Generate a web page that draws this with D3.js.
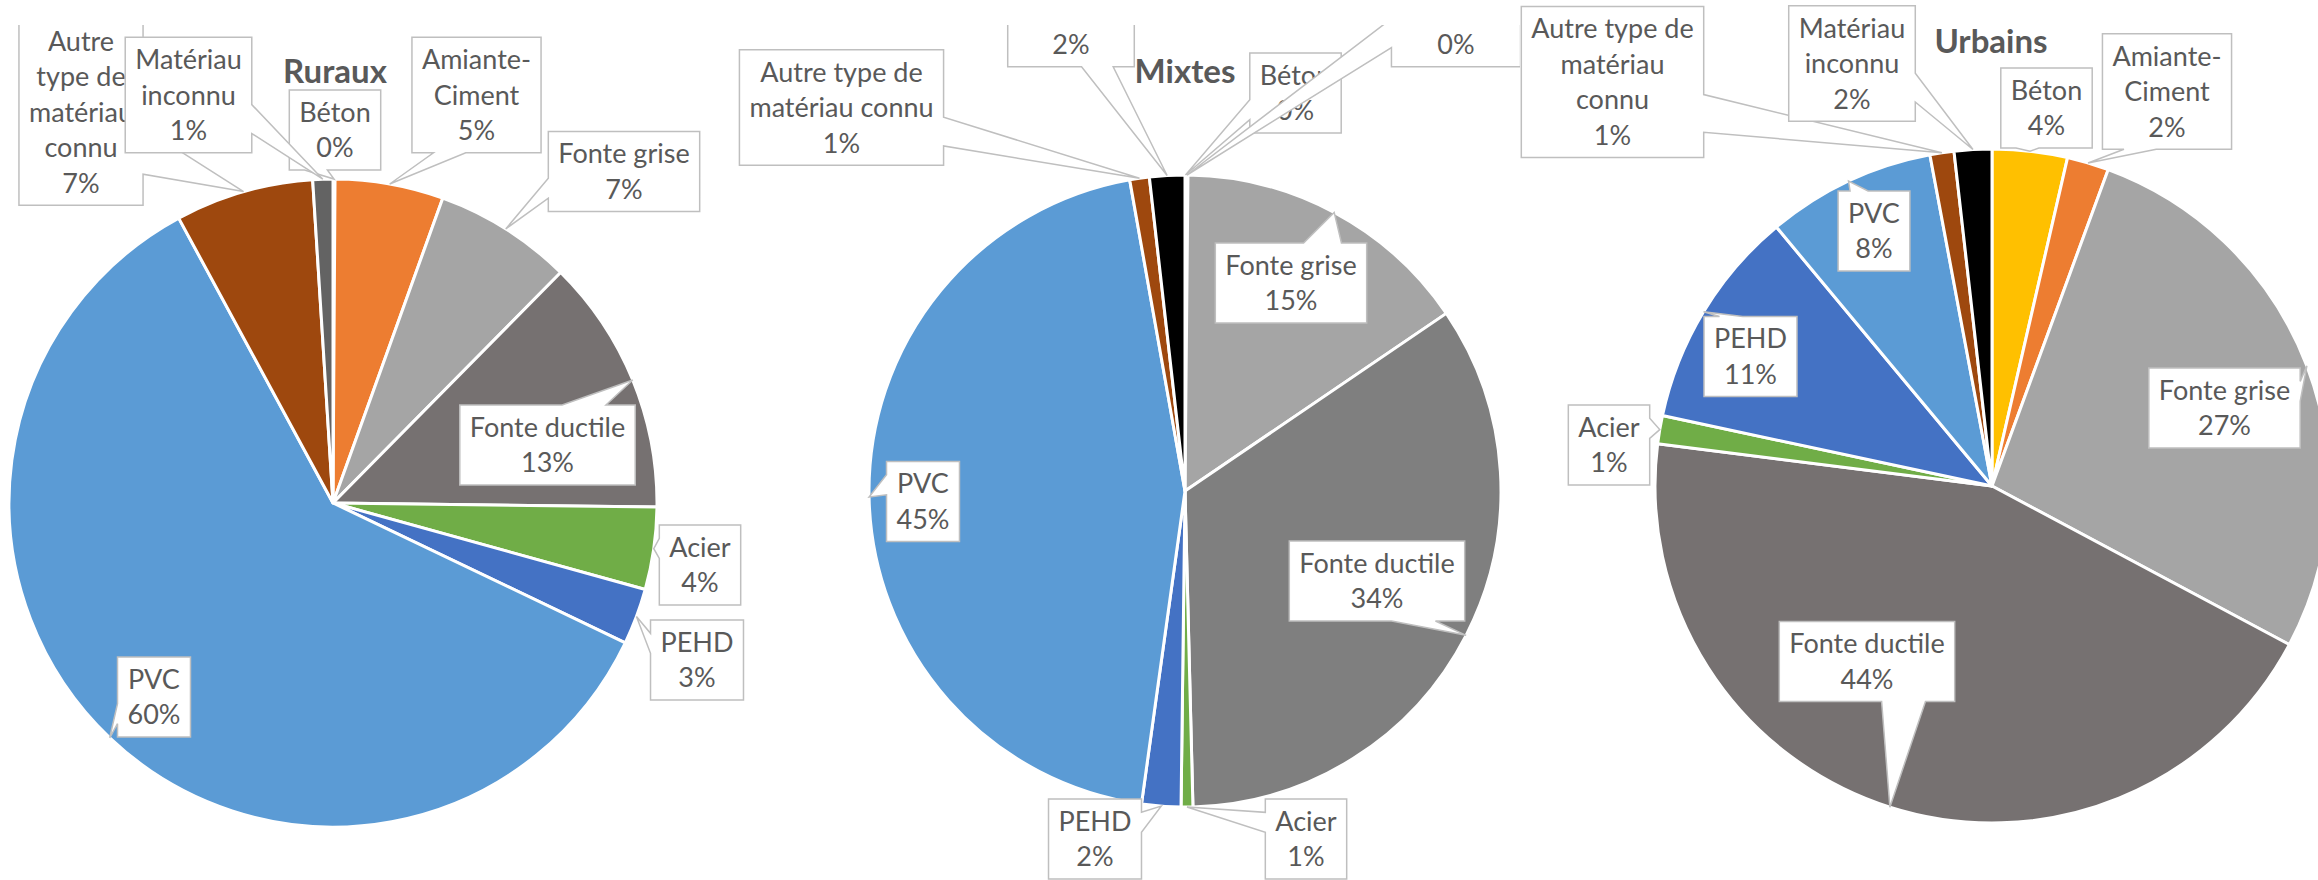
<!DOCTYPE html>
<html>
<head>
    <meta charset="utf-8">
    <title>Matériaux des canalisations</title>
    <style>
        body { margin: 0; background: #fff; }
        svg text { font-family: Lato, "Open Sans", sans-serif; fill: #595959; }
        .title { font-weight: bold; font-size: 33px; }
        .lbl { font-size: 27px; }
    </style>
</head>
<body>
<div id="plot"></div>
<script src="https://cdn.jsdelivr.net/npm/d3@7"></script>
<script>

    // categories, in the order of the series (clockwise from 12 o'clock)
    let materials = ['Béton', 'Amiante-Ciment', 'Fonte grise', 'Fonte ductile',
        'Acier', 'PEHD', 'PVC', 'Autre type de matériau connu', 'Matériau inconnu'];

    // share of network length (%)
    let valuesRuraux  = [0.1, 5.4, 6.9, 12.8, 4.1, 2.8, 60.0, 6.9, 1.0];
    let valuesMixtes  = [0.05, 0.1, 15.35, 34.1, 0.6, 2.0, 45.0, 1.0, 1.8];
    let valuesUrbains = [3.6, 2.0, 27.2, 44.2, 1.35, 10.6, 8.1, 1.15, 1.8];

    // label text as wrapped in each chart
    let namesRuraux  = [['Béton'], ['Amiante-', 'Ciment'], ['Fonte grise'], ['Fonte ductile'],
        ['Acier'], ['PEHD'], ['PVC'], ['Autre', 'type de', 'matériau', 'connu'], ['Matériau', 'inconnu']];
    let namesMixtes  = [['Béton'], ['Amiante-', 'Ciment'], ['Fonte grise'], ['Fonte ductile'],
        ['Acier'], ['PEHD'], ['PVC'], ['Autre type de', 'matériau connu'], ['Matériau', 'inconnu']];
    let namesUrbains = [['Béton'], ['Amiante-', 'Ciment'], ['Fonte grise'], ['Fonte ductile'],
        ['Acier'], ['PEHD'], ['PVC'], ['Autre type de', 'matériau', 'connu'], ['Matériau', 'inconnu']];

    let colorsRuraux  = ['#FFC000', '#ED7D31', '#A5A5A5', '#767171', '#70AD47', '#4472C4', '#5B9BD5', '#9E480E', '#636363'];
    let colorsMixtes  = ['#FFC000', '#ED7D31', '#A5A5A5', '#7F7F7F', '#70AD47', '#4472C4', '#5B9BD5', '#9E480E', '#000000'];
    let colorsUrbains = ['#FFC000', '#ED7D31', '#A5A5A5', '#767171', '#70AD47', '#4472C4', '#5B9BD5', '#9E480E', '#000000'];

    // layout: pie centre/radius, clip of each chart object, and label box offsets from the centre
    let charts = [
        {title: 'Ruraux', values: valuesRuraux, names: namesRuraux, colors: colorsRuraux,
         cx: 333, cy: 503, r: 324, titleX: 335, titleY: 83, clip: [0, 25, 760, 880],
         offsets: [[2, -373], [143.5, -408], [291, -331.5], [214.5, -58], [367, 62],
                   [364, 157], [-179, 194], [-252, -391], [-144.5, -408]]},
        {title: 'Mixtes', values: valuesMixtes, names: namesMixtes, colors: colorsMixtes,
         cx: 1185, cy: 491, r: 316, titleX: 1185, titleY: 83, clip: [736, 25, 1520, 880],
         offsets: [[110.5, -398], [271, -482], [106, -208], [192, 90], [121, 348],
                   [-90, 348], [-262, 10.5], [-343.5, -383.5], [-114, -482]]},
        {title: 'Urbains', values: valuesUrbains, names: namesUrbains, colors: colorsUrbains,
         cx: 1992, cy: 486, r: 337, titleX: 1991, titleY: 53, clip: [1520, 0, 2318, 880],
         offsets: [[54.5, -378], [175, -394.5], [232.5, -78], [-125, 175.5], [-383, -41],
                   [-241.5, -129.5], [-118, -255], [-379.5, -404], [-140, -422.5]]}
    ];

    let svgWidth = 2318;
    let svgHeight = 880;
    let lineH = 35.5;
    let padX = 10;
    let padY = 4.5;

    function translate(x, y) {
        return 'translate(' + x + ', ' + y + ')';
    }

    // wedge rectangle callout, same rule as the office preset shape
    function calloutPath(x, y, w, h, tx, ty) {
        let dx = tx - (x + w / 2), dy = ty - (y + h / 2);
        let dq = dx * h / w;
        let vert = Math.abs(dy) - Math.abs(dq) > 0;
        let x1 = x + w * (dx > 0 ? 7 : 2) / 12, x2 = x + w * (dx > 0 ? 10 : 5) / 12;
        let y1 = y + h * (dy > 0 ? 7 : 2) / 12, y2 = y + h * (dy > 0 ? 10 : 5) / 12;
        let p = d3.path();
        p.moveTo(x, y);
        if (vert && dy < 0) { p.lineTo(x1, y); p.lineTo(tx, ty); p.lineTo(x2, y); }
        p.lineTo(x + w, y);
        if (!vert && dx > 0) { p.lineTo(x + w, y1); p.lineTo(tx, ty); p.lineTo(x + w, y2); }
        p.lineTo(x + w, y + h);
        if (vert && dy > 0) { p.lineTo(x2, y + h); p.lineTo(tx, ty); p.lineTo(x1, y + h); }
        p.lineTo(x, y + h);
        if (!vert && dx < 0) { p.lineTo(x, y2); p.lineTo(tx, ty); p.lineTo(x, y1); }
        p.closePath();
        return p.toString();
    }

    let svg = d3.select('#plot')
        .append('svg')
        .attr('width', svgWidth)
        .attr('height', svgHeight);

    let pie = d3.pie().sort(null).value(d => d);

    charts.forEach(function(c, ci) {
        svg.append('clipPath')
            .attr('id', 'clip' + ci)
            .append('rect')
            .attr('x', c.clip[0]).attr('y', c.clip[1])
            .attr('width', c.clip[2] - c.clip[0]).attr('height', c.clip[3] - c.clip[1]);

        let g = svg.append('g').attr('clip-path', 'url(#clip' + ci + ')');
        let arcs = pie(c.values);
        let arc = d3.arc().innerRadius(0).outerRadius(c.r);

        let color = d3.scaleOrdinal().domain(materials).range(c.colors);

        g.append('g')
            .attr('transform', translate(c.cx, c.cy))
            .selectAll('path')
            .data(arcs)
            .enter()
            .append('path')
            .attr('d', arc)
            .style('fill', (d, i) => color(materials[i]))
            .style('stroke', '#fff')
            .style('stroke-width', 3)
            .style('stroke-linejoin', 'round');

        g.append('text')
            .attr('class', 'title')
            .attr('x', c.titleX)
            .attr('y', c.titleY)
            .style('text-anchor', 'middle')
            .text(c.title);

        arcs.forEach(function(a, i) {
            let lines = c.names[i].concat([Math.round(c.values[i]) + '%']);
            let mid = (a.startAngle + a.endAngle) / 2;
            let tx = c.cx + c.r * Math.sin(mid);
            let ty = c.cy - c.r * Math.cos(mid);
            let bx = c.cx + c.offsets[i][0];
            let by = c.cy + c.offsets[i][1];
            let h = lines.length * lineH + 2 * padY;
            let top = by - h / 2;

            let lg = g.append('g');
            let box = lg.append('path')
                .style('fill', '#fff')
                .style('stroke', '#BFBFBF')
                .style('stroke-width', 1.5);

            let txt = lg.append('text')
                .attr('class', 'lbl')
                .style('text-anchor', 'middle');
            txt.selectAll('tspan')
                .data(lines)
                .enter()
                .append('tspan')
                .attr('x', bx)
                .attr('y', (d, k) => top + padY + lineH * (k + 0.5) + 9.5)
                .text(d => d);

            let w = 0;
            txt.selectAll('tspan').each(function() {
                w = Math.max(w, this.getComputedTextLength());
            });
            w += 2 * padX;
            box.attr('d', calloutPath(bx - w / 2, top, w, h, tx, ty));
        });
    });

</script>
</body>
</html>
